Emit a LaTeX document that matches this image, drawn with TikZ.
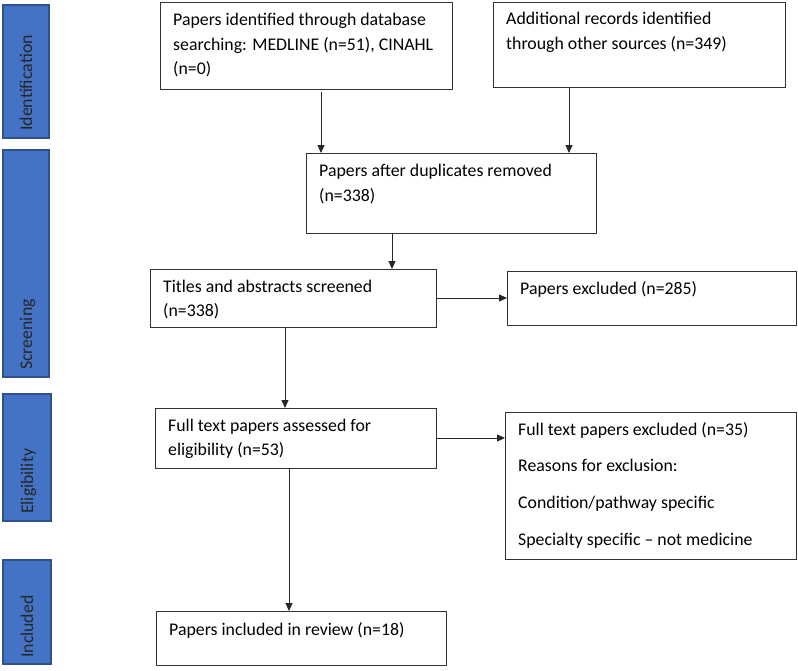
\documentclass[tikz,border=0pt]{standalone}
\usepackage{fontspec}
\setmainfont{Carlito}
\usetikzlibrary{arrows.meta}
\definecolor{barblue}{HTML}{4472C4}
\definecolor{barline}{HTML}{2F528F}
\begin{document}
\begin{tikzpicture}[x=1pt,y=-1pt,
  box/.style={draw=black!80, line width=1pt, anchor=north west, inner sep=0pt, outer sep=0pt},
  txt/.style={anchor=north west, inner sep=0pt, align=left, font=\fontsize{17.8}{24.5}\selectfont},
  txtwide/.style={anchor=north west, inner sep=0pt, align=left, font=\fontsize{17.8}{36.8}\selectfont},
  bar/.style={draw=barline, fill=barblue, line width=1.3pt, anchor=north west, inner sep=0pt, outer sep=0pt},
  bartxt/.style={rotate=90, anchor=base west, inner sep=0pt, text=black!85, font=\fontsize{17.8}{21}\selectfont},
  arr/.style={draw=black!85, line width=0.9pt, -{Triangle[length=8pt,width=7pt]}}]
\useasboundingbox (0,0) rectangle (798,670);
% side bars
\node[bar, minimum width=46pt, minimum height=133pt] (bid) at (3,5) {};
\node[bar, minimum width=46pt, minimum height=227pt] (bsc) at (3,150) {};
\node[bar, minimum width=48pt, minimum height=127pt] (bel) at (3,394) {};
\node[bar, minimum width=48pt, minimum height=104pt] (bin) at (3,560) {};
\node[bartxt] (tid) at (32,131) {Identification};
\node[bartxt] (tsc) at (32,370) {Screening};
\node[bartxt] (tel) at (33,514) {Eligibility};
\node[bartxt] (tin) at (33,658) {Included};
% boxes
\node[box, minimum width=292pt, minimum height=87pt] (a) at (160,2) {};
\node[box, minimum width=292pt, minimum height=85pt] (b) at (493,2) {};
\node[box, minimum width=290pt, minimum height=80pt] (c) at (306,153) {};
\node[box, minimum width=286pt, minimum height=58pt] (d) at (150,269) {};
\node[box, minimum width=289pt, minimum height=54pt] (e) at (507,271) {};
\node[box, minimum width=281pt, minimum height=60pt] (f) at (155,408) {};
\node[box, minimum width=291pt, minimum height=147pt] (g) at (505,412) {};
\node[box, minimum width=290pt, minimum height=54pt] (h) at (156,611) {};
% texts
\node[txt] (at) at (173,8.5) {\strut Papers identified through database\\searching: MEDLINE (n=51), CINAHL\\(n=0)};
\node[txt] (bt) at (506,7.5) {\strut Additional records identified\\through other sources (n=349)};
\node[txt] (ct) at (319,159.5) {\strut Papers after duplicates removed\\(n=338)};
\node[txt] (dt) at (163,275) {\strut Titles and abstracts screened\\(n=338)};
\node[txt] (et) at (520,277) {\strut Papers excluded (n=285)};
\node[txt] (ft) at (168,414) {\strut Full text papers assessed for\\eligibility (n=53)};
\node[txtwide] (gt) at (518,409.2) {\strut Full text papers excluded (n=35)\\Reasons for exclusion:\\Condition/pathway specific\\Specialty specific -- not medicine};
\node[txt] (ht) at (169,618) {\strut Papers included in review (n=18)};
% arrows
\draw[arr] ([xshift=161pt,yshift=-3pt]a.south west) -- ([xshift=161pt]a.south west |- c.north);
\draw[arr] ([xshift=76pt]b.south west) -- ([xshift=76pt]b.south west |- c.north);
\draw[arr] ([xshift=86pt]c.south west) -- ([xshift=86pt]c.south west |- d.north);
\draw[arr] (d.east) -- (d.east -| e.west);
\draw[arr] ([xshift=135pt]d.south west) -- ([xshift=135pt]d.south west |- f.north);
\draw[arr] (f.east) -- (f.east -| g.west);
\draw[arr] ([xshift=134pt]f.south west) -- ([xshift=134pt]f.south west |- h.north);
\end{tikzpicture}
\end{document}
